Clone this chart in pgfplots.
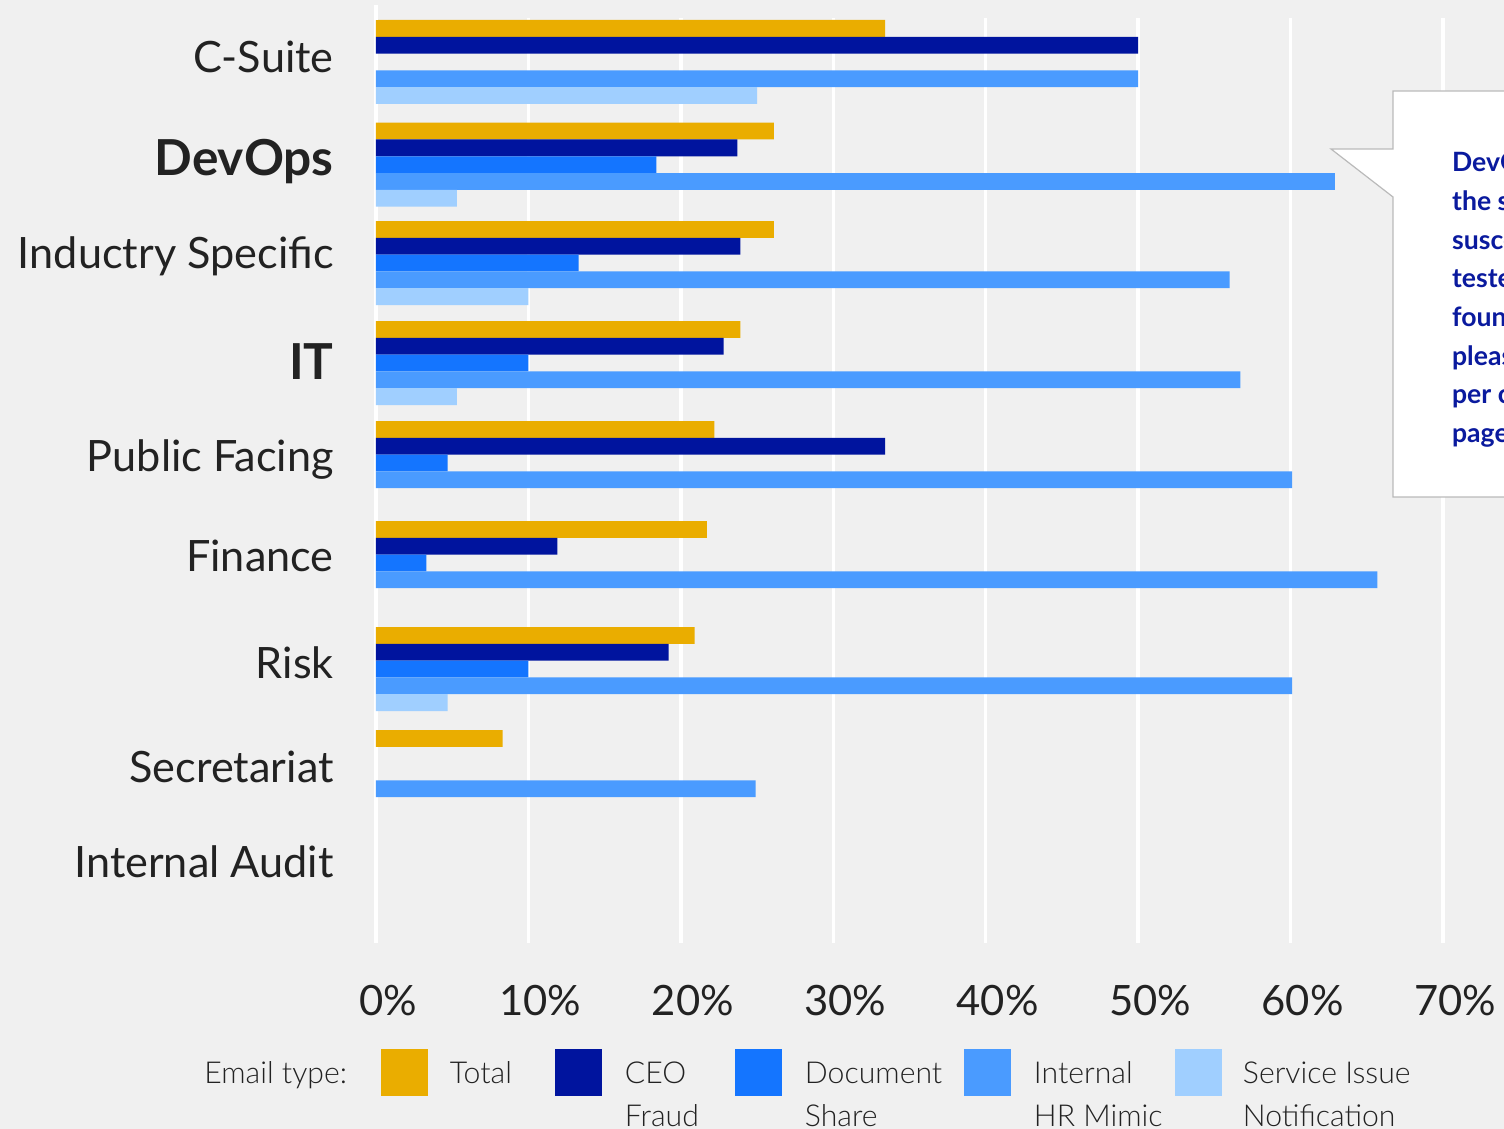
\documentclass[border=0pt]{standalone}
\usepackage{fontspec}
\setmainfont{Lato}
\newfontfamily\lightfont{Lato Light}
\usepackage{pgfplots}
\pgfplotsset{compat=1.18}
\definecolor{cTotal}{HTML}{EAAD00}
\definecolor{cCEO}{HTML}{00149E}
\definecolor{cDoc}{HTML}{1475FF}
\definecolor{cInt}{HTML}{4A9BFF}
\definecolor{cSvc}{HTML}{A0CFFF}
\definecolor{bg}{HTML}{F0F0F0}
\definecolor{txt}{HTML}{222222}
\definecolor{callout}{HTML}{0A1A9E}
\pgfplotsset{sq legend/.style={legend image code/.code={\fill[##1] (0pt,-11.75pt) rectangle (23.5pt,11.75pt);}}}
\begin{document}
\begin{tikzpicture}
\path[use as bounding box] (0,0) rectangle (752pt,564.5pt);
\clip (0,0) rectangle (752pt,564.5pt);
\fill[bg] (0,0) rectangle (752pt,564.5pt);
\begin{axis}[
  at={(188pt,93pt)}, anchor=south west,
  width=533.5pt, height=462.5pt, scale only axis,
  xmin=0, xmax=70, ymin=18, ymax=943, y dir=reverse,
  axis line style={draw=none}, major tick length=0pt, tick style={draw=none},
  xtick={0,10,20,30,40,50,60,70},
  xticklabels={0\%,10\%,20\%,30\%,40\%,50\%,60\%,70\%},
  xmajorgrids, grid style={white, line width=1.75pt},
  ytick={57,160,253.5,364.5,456,556,663,767,862.5},
  yticklabels={C-Suite,{\fontsize{24.8}{26}\selectfont\bfseries DevOps},Inductry Specific,{\fontsize{24.8}{26}\selectfont\bfseries IT},Public Facing,Finance,Risk,Secretariat,Internal Audit},
  y tick label style={font=\fontsize{21.6}{24}\selectfont, text=txt, anchor=east, inner sep=0pt, xshift=-21pt, text height=15.4pt, text depth=0pt},
  x tick label style={font=\fontsize{20.9}{24}\selectfont, text=txt, anchor=north, inner sep=0pt, yshift=-21pt, xshift=6pt, text height=15pt, text depth=0pt},
  legend columns=-1,
  legend cell align=left,
  legend style={at={(0.00469,-0.14)}, anchor=west, draw=none, fill=none, inner sep=0pt, outer sep=0pt, column sep=0pt,
    nodes={inner sep=0pt, outer sep=0pt, anchor=west, text height=10.85pt, text depth=0pt, font=\lightfont\fontsize{15.1}{21.5}\selectfont, text=txt}},
]
\addplot[xbar, bar width=16.8, bar shift=-33.6, fill=cTotal, draw=none, sq legend] coordinates {(33.4,62) (26.1,164.7) (26.1,263) (23.9,363) (22.2,463) (21.7,563) (20.9,669) (8.3,772)};
\addplot[xbar, bar width=16.8, bar shift=-16.8, fill=cCEO, draw=none, sq legend] coordinates {(50,62) (23.7,164.7) (23.9,263) (22.8,363) (33.4,463) (11.9,563) (19.2,669)};
\addplot[xbar, bar width=16.8, bar shift=0, fill=cDoc, draw=none, sq legend] coordinates {(18.4,164.7) (13.3,263) (10,363) (4.7,463) (3.3,563) (10,669)};
\addplot[xbar, bar width=16.8, bar shift=16.8, fill=cInt, draw=none, sq legend] coordinates {(50,62) (62.9,164.7) (56,263) (56.7,363) (60.1,463) (65.7,563) (60.1,669) (24.9,772)};
\addplot[xbar, bar width=16.8, bar shift=33.6, fill=cSvc, draw=none, sq legend] coordinates {(25,62) (5.3,164.7) (10,263) (5.3,363) (4.7,669)};
\addlegendentry{\makebox[63.5pt][l]{\hspace*{11pt}Total}}
\addlegendentry{\makebox[66.5pt][l]{\hspace*{11.5pt}\vtop{\hbox{CEO}\hbox{Fraud}}}}
\addlegendentry{\makebox[91pt][l]{\hspace*{11.5pt}\vtop{\hbox{Document}\hbox{Share}}}}
\addlegendentry{\makebox[82pt][l]{\hspace*{11.5pt}\vtop{\hbox{Internal}\hbox{HR Mimic}}}}
\addlegendentry{\hspace*{10.5pt}\vtop{\hbox{Service Issue}\hbox{Notification}}}
\end{axis}
\begin{scope}[x=0.5pt,y=-0.5pt,shift={(0,564.5pt)}]
\draw[white, line width=1.75pt] (376,5) -- (376,20);
\filldraw[fill=white, draw=black!27, line width=0.6pt] (1530,91) -- (1393,91) -- (1393,149) -- (1331,149) -- (1393,197) -- (1393,497) -- (1530,497) -- cycle;
\node[anchor=base west, inner sep=0pt, text=callout, font=\bfseries\fontsize{13.3}{19.35}\selectfont] at (1451.7,171.7)
  {\vtop{\hbox{DevOps were}\hbox{the second most}\hbox{susceptible group}\hbox{tested, and were}\hbox{found to be}\hbox{pleasingly rare}\hbox{per cent on this}\hbox{page}}};
\node[anchor=base west, inner sep=0pt, text=txt, font=\lightfont\fontsize{15.1}{21.5}\selectfont] at (204,1083.3) {Email type:};
\end{scope}
\end{tikzpicture}
\end{document}
